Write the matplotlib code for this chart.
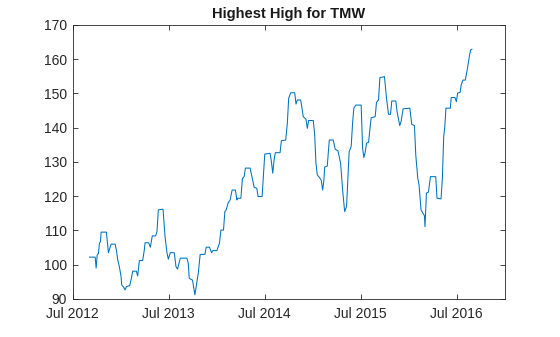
import matplotlib
matplotlib.use("Agg")
import matplotlib.pyplot as plt
import matplotlib.dates as mdates
import pandas as pd

# time as decimal years (2012.5 = Jul 2012)
years = [2012.674, 2012.733, 2012.743, 2012.754, 2012.767, 2012.778, 2012.788, 2012.795,
         2012.850, 2012.864, 2012.871, 2012.885, 2012.899, 2012.941, 2012.954, 2012.968,
         2012.985, 2013.003, 2013.009, 2013.030, 2013.045, 2013.058, 2013.093, 2013.110,
         2013.124, 2013.162, 2013.176, 2013.193, 2013.228, 2013.245, 2013.253, 2013.290,
         2013.308, 2013.328, 2013.363, 2013.377, 2013.391, 2013.440, 2013.461, 2013.481,
         2013.495, 2013.516, 2013.557, 2013.575, 2013.591, 2013.620, 2013.689, 2013.703,
         2013.713, 2013.747, 2013.758, 2013.772, 2013.793, 2013.807, 2013.827, 2013.876,
         2013.890, 2013.924, 2013.945, 2013.959, 2014.001, 2014.028, 2014.043, 2014.070,
         2014.084, 2014.098, 2014.119, 2014.139, 2014.160, 2014.194, 2014.209, 2014.215,
         2014.251, 2014.267, 2014.285, 2014.298, 2014.347, 2014.368, 2014.389, 2014.417,
         2014.430, 2014.472, 2014.485, 2014.500, 2014.555, 2014.569, 2014.583, 2014.597,
         2014.610, 2014.659, 2014.673, 2014.718, 2014.735, 2014.749, 2014.770, 2014.812,
         2014.825, 2014.839, 2014.874, 2014.901, 2014.929, 2014.943, 2014.957, 2015.005,
         2015.020, 2015.033, 2015.047, 2015.068, 2015.088, 2015.103, 2015.116, 2015.124,
         2015.151, 2015.172, 2015.213, 2015.234, 2015.262, 2015.290, 2015.311, 2015.324,
         2015.332, 2015.352, 2015.366, 2015.379, 2015.400, 2015.415, 2015.428, 2015.449,
         2015.504, 2015.519, 2015.532, 2015.546, 2015.560, 2015.581, 2015.595, 2015.608,
         2015.650, 2015.664, 2015.685, 2015.699, 2015.747, 2015.768, 2015.789, 2015.810,
         2015.823, 2015.865, 2015.878, 2015.906, 2015.920, 2015.941, 2016.011, 2016.031,
         2016.059, 2016.073, 2016.094, 2016.107, 2016.128, 2016.149, 2016.163, 2016.169,
         2016.184, 2016.205, 2016.226, 2016.281, 2016.294, 2016.336, 2016.350, 2016.364,
         2016.376, 2016.387, 2016.433, 2016.442, 2016.481, 2016.496, 2016.509, 2016.535,
         2016.546, 2016.564, 2016.589, 2016.610, 2016.631, 2016.644, 2016.658]

highest_high = [102.2, 102.2, 99.0, 102.8, 103.3, 106.3, 106.7, 109.5,
                109.5, 105.3, 103.5, 104.8, 106.0, 106.0, 104.3, 101.4,
                99.4, 96.5, 94.1, 93.4, 92.6, 93.6, 93.9, 96.0,
                98.1, 98.1, 96.7, 101.2, 101.2, 104.3, 106.4, 106.4,
                105.1, 108.4, 108.4, 109.7, 116.0, 116.2, 108.2, 103.5,
                101.6, 103.5, 103.5, 99.4, 98.7, 101.9, 101.9, 100.4,
                96.0, 95.5, 93.6, 91.2, 95.1, 97.5, 103.0, 103.0,
                105.1, 105.1, 103.5, 104.1, 104.1, 106.3, 110.1, 110.1,
                115.5, 116.0, 118.1, 118.9, 121.8, 121.8, 118.9, 119.4,
                119.4, 125.2, 125.7, 128.2, 128.2, 125.5, 122.6, 122.3,
                119.9, 119.9, 125.7, 132.3, 132.5, 130.1, 126.7, 130.6,
                132.7, 132.7, 136.2, 136.4, 141.3, 148.6, 150.2, 150.2,
                146.9, 148.1, 148.1, 143.2, 142.5, 139.8, 142.1, 142.1,
                137.9, 129.6, 126.2, 125.5, 124.7, 121.8, 124.7, 128.5,
                128.8, 136.4, 136.4, 133.7, 133.3, 129.6, 121.8, 117.9,
                115.5, 117.0, 125.2, 133.0, 134.5, 141.5, 145.7, 146.6,
                146.6, 134.0, 131.3, 132.8, 135.5, 135.7, 139.3, 142.9,
                143.2, 147.4, 148.1, 154.6, 154.9, 148.6, 143.9, 143.9,
                147.8, 147.8, 144.7, 140.6, 141.8, 145.5, 145.7, 141.0,
                140.6, 132.0, 125.2, 123.3, 116.0, 115.0, 114.3, 111.1,
                120.9, 121.2, 125.7, 125.7, 119.4, 119.2, 125.2, 137.4,
                140.5, 145.7, 145.7, 148.8, 148.8, 147.6, 150.1, 150.3,
                152.5, 153.9, 153.9, 157.1, 160.8, 162.7, 162.9]

yticks = list(range(90, 171, 10))
xtick_dates = ["2012-07-01", "2013-07-01", "2014-07-01", "2015-07-01", "2016-07-01"]

base = pd.Timestamp("2012-07-01")
dates = [base + pd.Timedelta(days=(t - 2012.5) * 365.25) for t in years]

plt.rcParams['font.family'] = ['Liberation Sans', 'DejaVu Sans']

fig = plt.figure(figsize=(5.6, 3.37), dpi=100)
ax = fig.add_axes([0.130, 0.113, 0.772, 0.813])
ax.plot(dates, highest_high, color='#0072BD', linewidth=0.75)

ax.set_xlim(pd.Timestamp("2012-07-01"), pd.Timestamp("2017-01-01"))
ax.set_ylim(90, 170)
ax.set_yticks(yticks)
ax.set_xticks(pd.to_datetime(xtick_dates))
ax.xaxis.set_major_formatter(mdates.DateFormatter('%b %Y'))

ax.tick_params(direction='in', length=3.5, width=0.6, top=True, right=True,
               labelsize=10, colors='#262626')
ax.tick_params(axis='x', pad=6)
ax.tick_params(axis='y', pad=4)
for s in ax.spines.values():
    s.set_linewidth(0.6)
    s.set_color('#262626')

ax.set_title('Highest High for TMW', fontsize=10.5, fontweight='bold', color='#1a1a1a', pad=5)

fig.savefig("out.png", dpi=100)
